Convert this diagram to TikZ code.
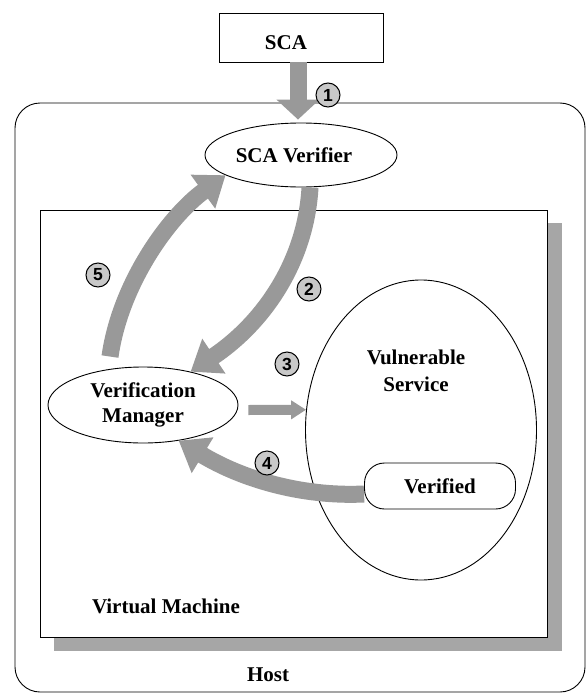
\documentclass[tikz,border=0pt]{standalone}
\usepackage{fontspec}
\setmainfont{Liberation Serif}
\newfontfamily\numfont{Liberation Sans}
\usetikzlibrary{arrows.meta,shapes.geometric}
\definecolor{arrowgray}{HTML}{999999}
\definecolor{shadowgray}{HTML}{A6A6A6}
\definecolor{numgray}{HTML}{C8C8C8}
\begin{document}
\begin{tikzpicture}[x=1pt,y=-1pt,
  lbl/.style={font=\fontsize{21}{25}\selectfont\bfseries, align=center},
  oval/.style={ellipse, draw, line width=0.9pt, inner sep=0pt, fill=white},
  bigarrow/.style={draw=arrowgray, line width=17pt, -{Triangle[width=40pt,length=28pt]}},
  toparrow/.style={draw=arrowgray, line width=17pt, -{Triangle[width=42pt,length=20pt]}},
  smallarrow/.style={draw=arrowgray, line width=10pt, -{Triangle[width=18pt,length=15pt]}},
  num/.style={circle, draw, line width=1pt, fill=numgray, minimum size=24pt, inner sep=0pt, font=\numfont\fontsize{17.5}{17.5}\selectfont\bfseries},
]
\useasboundingbox (0,0) rectangle (587,696);

% containers
\node[draw, line width=0.9pt, rounded corners=25pt, minimum width=570pt, minimum height=589pt, inner sep=0pt] (host) at (300,397.5) {};
\fill[shadowgray] (54,223) rectangle (562,651);
\node[draw, line width=1pt, fill=white, minimum width=507pt, minimum height=427pt, inner sep=0pt] (vmach) at (293.5,423.5) {};

% boxes
\node[draw, line width=0.9pt, minimum width=164pt, minimum height=49pt, inner sep=0pt,
      label={[lbl, xshift=-15pt, yshift=-5.5pt]center:SCA}] (sca) at (301,37.5) {};
\node[oval, minimum width=192pt, minimum height=64pt,
      label={[lbl, xshift=-7pt]center:SCA Verifier}] (sv) at (301,155) {};
\node[oval, lbl, minimum width=190pt, minimum height=76pt] (vmgr) at (143,405) {Verification\\Manager};
\node[oval, minimum width=231pt, minimum height=300pt] (vs) at (421,430) {};
\node[lbl, font=\fontsize{21}{27}\selectfont\bfseries] (vstxt) at (416,371) {Vulnerable\\Service};
\node[draw, line width=0.9pt, fill=white, rounded corners=20pt, minimum width=151pt, minimum height=46pt, inner sep=0pt, lbl] (ver) at (440,486) {Verified};

\node[lbl] (vmtxt) at (166,606) {Virtual Machine};
\node[lbl] (hosttxt) at (268,675) {Host};

% arrows
\draw[toparrow] ([xshift=-3pt]sca.south) -- ([xshift=-3pt,yshift=3pt]sv.north);
\draw[bigarrow] ([xshift=9pt]sv.south) .. controls (306,260) and (265,322) .. (vmgr.35);
\draw[bigarrow] ([xshift=-33pt,yshift=10pt]vmgr.north) .. controls (120,285) and (168,217) .. (sv.195);
\draw[smallarrow] ([xshift=10pt,yshift=-5pt]vmgr.east) -- (vs.170);
\draw[bigarrow] ([yshift=-8pt]ver.west) .. controls (300,497) and (240,478) .. (vmgr.-45);

% step numbers
\node[num] (n1) at (328,95) {1};
\node[num] (n2) at (309,289) {2};
\node[num] (n3) at (287,364) {3};
\node[num] (n4) at (267,463) {4};
\node[num] (n5) at (98,275) {5};
\end{tikzpicture}
\end{document}
